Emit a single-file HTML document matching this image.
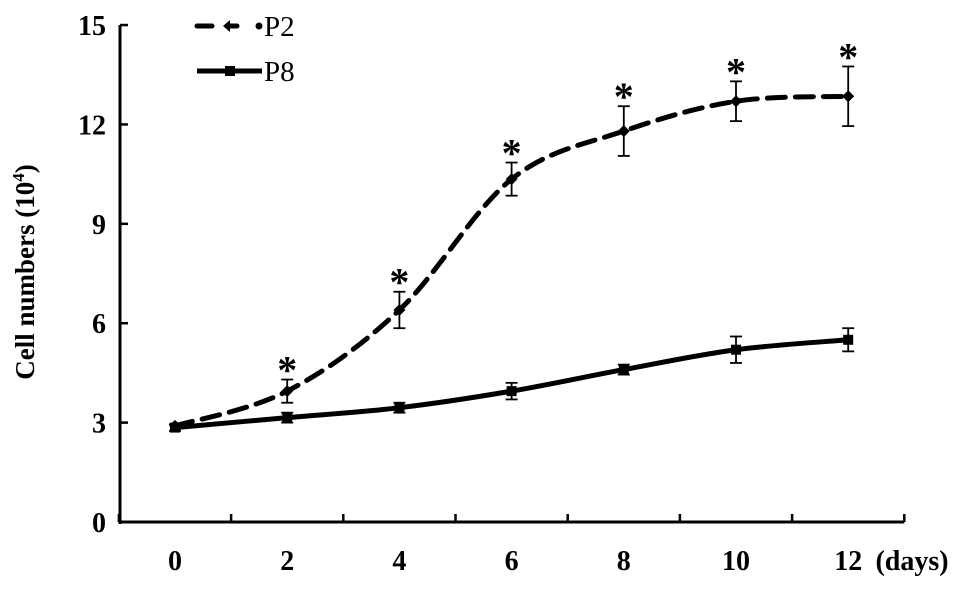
<!DOCTYPE html>
<html><head><meta charset="utf-8"><style>
body{margin:0;background:#fff}
svg{display:block;font-family:"Liberation Serif",serif;font-weight:bold}
</style></head><body>
<svg id="c" width="969" height="594"></svg>
<script>
const days=[0,2,4,6,8,10,12];
const p2=[2.9,3.95,6.4,10.35,11.8,12.7,12.85];
const p2err=[0,0.35,0.55,0.5,0.75,0.6,0.9];
const p8=[2.85,3.15,3.45,3.95,4.6,5.2,5.5];
const p8err=[0.1,0.15,0.15,0.25,0.15,0.4,0.35];
const sig=[false,true,true,true,true,true,true];
const yTicks=[0,3,6,9,12,15];
const xTicks=[0,2,4,6,8,10,12];
const ns="http://www.w3.org/2000/svg",svg=document.getElementById('c');
const X=d=>175+d*56.1, Y=v=>522-v*33.13;
function el(t,a,p){const e=document.createElementNS(ns,t);for(const k in a)e.setAttribute(k,a[k]);(p||svg).appendChild(e);return e;}
let e;
e=el('line',{x1:120,y1:Y(15),x2:120,y2:Y(0)+2,stroke:'#000','stroke-width':3});

e=el('line',{x1:119,y1:Y(0),x2:X(13),y2:Y(0),stroke:'#000','stroke-width':3});

yTicks.forEach(v=>{
 el('line',{x1:120,y1:Y(v),x2:128,y2:Y(v),stroke:'#000','stroke-width':2.5});
 e=el('text',{x:106,y:Y(v)+10,'font-size':28,'text-anchor':'end'});e.textContent=v;
 
});
for(let d=-1;d<=13;d+=2) el('line',{x1:X(d),y1:Y(0),x2:X(d),y2:Y(0)-8,stroke:'#000','stroke-width':2.5});
xTicks.forEach(d=>{
 e=el('text',{x:X(d),y:570,'font-size':28,'text-anchor':'middle'});e.textContent=d;
 
});
e=el('text',{x:912,y:570,'font-size':28,'text-anchor':'middle'});e.textContent='(days)';

e=el('text',{x:0,y:0,'font-size':27,'text-anchor':'middle',transform:'translate(34,272) rotate(-90)'});
e.innerHTML='Cell numbers (10<tspan font-size="17" dy="-10">4</tspan><tspan dy="10">)</tspan>';

function path(vals){
 const p=days.map((d,i)=>[X(d),Y(vals[i])]);let s='M'+p[0];
 for(let i=0;i<p.length-1;i++){const a=p[Math.max(0,i-1)],b=p[i],c=p[i+1],d=p[Math.min(p.length-1,i+2)];
  s+=` C${b[0]+(c[0]-a[0])/6},${b[1]+(c[1]-a[1])/6} ${c[0]-(d[0]-b[0])/6},${c[1]-(d[1]-b[1])/6} ${c[0]},${c[1]}`;}
 return s;}
function err(vals,errs,name){days.forEach((d,i)=>{if(!errs[i])return;const x=X(d),t=Y(vals[i]+errs[i]),b=Y(vals[i]-errs[i]);
 const g=el('g',{stroke:'#000','stroke-width':1.8});
 el('line',{x1:x,y1:t,x2:x,y2:b},g);el('line',{x1:x-6,y1:t,x2:x+6,y2:t},g);el('line',{x1:x-6,y1:b,x2:x+6,y2:b},g);});}
err(p2,p2err,'p2-error-bar');err(p8,p8err,'p8-error-bar');
e=el('path',{d:path(p2),fill:'none',stroke:'#000','stroke-width':5,'stroke-dasharray':'18 10','stroke-linecap':'round'});

e=el('path',{d:path(p8),fill:'none',stroke:'#000','stroke-width':5});

days.forEach((d,i)=>{
 e=el('rect',{x:X(d)-5,y:Y(p8[i])-5,width:10,height:10,fill:'#000'});
 
 const x=X(d),y=Y(p2[i]);
 e=el('polygon',{points:`${x},${y-6} ${x+6},${y} ${x},${y+6} ${x-6},${y}`,fill:'#000'});
 
 if(sig[i]){e=el('text',{x:x,y:Y(p2[i]+p2err[i])+4,'font-size':40,'text-anchor':'middle'});e.textContent='*';
 }
});
let g=el('g',{});
el('line',{x1:197,y1:26,x2:212,y2:26,stroke:'#000','stroke-width':5,'stroke-linecap':'round'},g);
el('line',{x1:227,y1:26,x2:237,y2:26,stroke:'#000','stroke-width':5,'stroke-linecap':'round'},g);
el('polygon',{points:'223,26 230,20 230,32',fill:'#000'},g);
el('circle',{cx:259,cy:26,r:3.5,fill:'#000'},g);
e=el('text',{x:264,y:36,'font-size':29,'font-weight':'normal'},g);e.textContent='P2';
g=el('g',{});
el('line',{x1:197,y1:71,x2:262,y2:71,stroke:'#000','stroke-width':5},g);
el('rect',{x:225,y:66,width:10,height:10,fill:'#000'},g);
e=el('text',{x:264,y:81,'font-size':29,'font-weight':'normal'},g);e.textContent='P8';
</script>
</body></html>
